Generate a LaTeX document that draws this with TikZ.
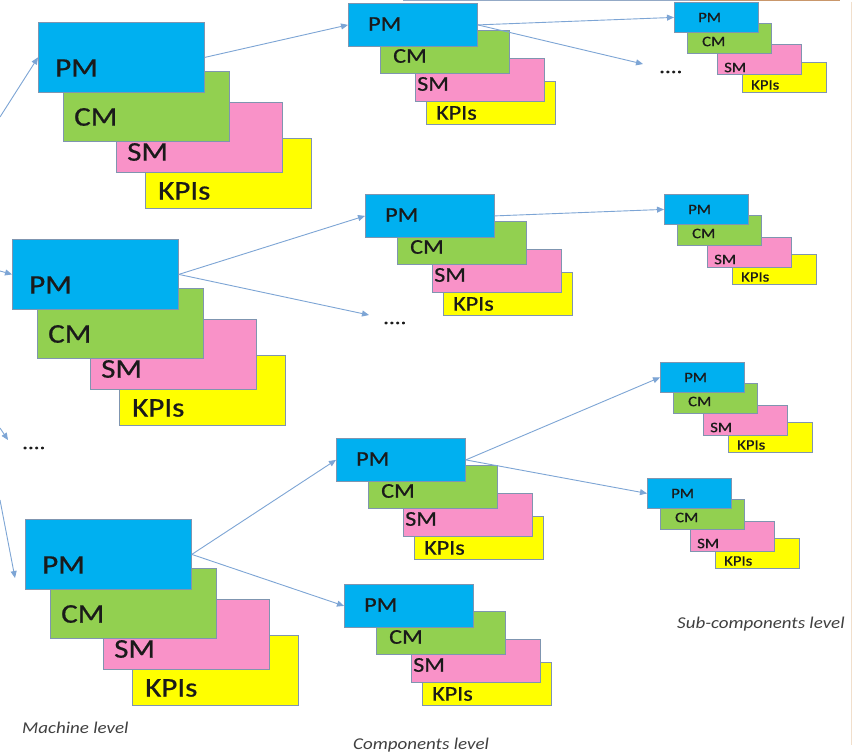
\documentclass[tikz,border=0pt]{standalone}
\usepackage{fontspec}
\setmainfont{Carlito}
\newfontfamily\heavyface{Carlito}[FakeBold=0.6]
\usetikzlibrary{arrows.meta}

\definecolor{pmblue}{HTML}{00B0F0}
\definecolor{cmgreen}{HTML}{92D050}
\definecolor{smpink}{HTML}{F992C8}
\definecolor{kpiyellow}{HTML}{FFFF00}
\definecolor{boxline}{HTML}{7F95B0}
\definecolor{flow}{HTML}{7DA5D5}
\definecolor{inktext}{HTML}{1A1A1A}
\definecolor{captext}{HTML}{404040}
\definecolor{edgegray}{HTML}{93A9C6}
\definecolor{edgeorange}{HTML}{C9976B}
\definecolor{edgefaint}{HTML}{F1DFCC}

% slightly widened lettering
\newcommand\wide[1]{\scalebox{1.15}[1]{#1}}

\tikzset{
  layer/.style={draw=boxline, line width=0.8pt, rectangle, inner sep=0pt,
    anchor=north west, minimum width=\bw, minimum height=\bh},
  tag/.style={anchor=west, inner sep=0pt, text=inktext, font=\heavyface\stackfont},
  flowarrow/.style={draw=flow, line width=0.9pt, -{Triangle[length=7pt,width=6pt]}},
  levelcap/.style={anchor=base west, inner sep=0pt, text=captext,
    font=\fontsize{16.5}{18}\selectfont\itshape},
  moredots/.style={anchor=west, inner sep=0pt, text=inktext,
    font=\heavyface\fontsize{20}{22}\selectfont},
}

% one PM/CM/SM/KPIs stack; #1 name prefix, #2,#3 top-left corner of PM
\newcommand\genstack[3]{%
  \node[layer, fill=kpiyellow] (#1k) at (#2+\kx,#3+\ky) {};
  \node[layer, fill=smpink]    (#1s) at (#2+\sx,#3+\sy) {};
  \node[layer, fill=cmgreen]   (#1c) at (#2+\cx,#3+\cy) {};
  \node[layer, fill=pmblue]    (#1p) at (#2,#3) {};
  \node[tag] (#1pt) at ([shift={(\ptx,\pty)}]#1p.north west) {\wide{PM}};
  \node[tag] (#1ct) at ([shift={(\ctx,\cty)}]#1c.north west) {\wide{CM}};
  \node[tag] (#1st) at ([shift={(\stx,\sty)}]#1s.north west) {\wide{SM}};
  \node[tag] (#1kt) at ([shift={(\ktx,\kty)}]#1k.north west) {\wide{KPIs}};
}

\newcommand\machinestack[3]{%
  \def\bw{166pt}\def\bh{70pt}%
  \def\cx{25}\def\cy{49}\def\sx{78}\def\sy{80}\def\kx{107}\def\ky{116}%
  \def\ptx{17}\def\pty{46}\def\ctx{11}\def\cty{46}%
  \def\stx{11}\def\sty{50}\def\ktx{13}\def\kty{53}%
  \def\stackfont{\fontsize{27}{30}\selectfont}%
  \genstack{#1}{#2}{#3}}

\newcommand\compstack[3]{%
  \def\bw{129pt}\def\bh{43pt}%
  \def\cx{32}\def\cy{27}\def\sx{67}\def\sy{55}\def\kx{78}\def\ky{78}%
  \def\ptx{20}\def\pty{21}\def\ctx{13}\def\cty{26}%
  \def\stx{2}\def\sty{26}\def\ktx{10}\def\kty{32}%
  \def\stackfont{\fontsize{21}{24}\selectfont}%
  \genstack{#1}{#2}{#3}}

\newcommand\subcompstack[3]{%
  \def\bw{84pt}\def\bh{30pt}%
  \def\cx{12.5}\def\cy{21}\def\sx{43}\def\sy{42.5}\def\kx{68}\def\ky{60}%
  \def\ptx{24}\def\pty{15.5}\def\ctx{15.5}\def\cty{18.5}%
  \def\stx{7}\def\sty{23}\def\ktx{9}\def\kty{23}%
  \def\stackfont{\fontsize{14.5}{16}\selectfont}%
  \genstack{#1}{#2}{#3}}

\begin{document}
\begin{tikzpicture}[x=1pt, y=-1pt]
  \useasboundingbox[fill=white] (0,0) rectangle (855,752);

  % frame edges
  \draw[edgegray, line width=1.2pt] (403,0.6) -- (690,0.6);
  \draw[edgeorange, line width=1.2pt] (690,0.6) -- (840,0.6);
  \draw[edgefaint, line width=0.8pt] (851,2) -- (851,745);

  % machine level
  \machinestack{ma}{38}{22}
  \machinestack{mb}{12}{239}
  \machinestack{mc}{25}{519}

  % components level
  \compstack{ca}{348}{3}
  \compstack{cb}{365}{194}
  \compstack{cc}{336}{438}
  \compstack{cd}{344}{584}

  % sub-components level
  \subcompstack{sa}{674}{2}
  \subcompstack{sb}{664}{194}
  \subcompstack{sc}{660}{362}
  \subcompstack{sd}{647}{478}

  % continuation marks
  \node[moredots] (mdots) at (22,448) {\wide{....}};
  \node[moredots] (cdots) at (383,323) {\wide{....}};
  \node[moredots] (sdots) at (659,72) {\wide{....}};

  % free arrow ends
  \coordinate (in1) at (0,117);
  \coordinate (in2) at (0,271);
  \coordinate (in3) at (0,428);
  \coordinate (in3e) at (8,440);
  \coordinate (in4) at (0,500);
  \coordinate (in4e) at (15,578);
  \coordinate (camore) at (643,64);
  \coordinate (mbmore) at (369,315);

  % incoming arrows at the machine level
  \draw[flowarrow] (in1) -- (map.west);
  \draw[flowarrow] (in2) -- (mbp.west);
  \draw[flowarrow] (in3) -- (in3e);
  \draw[flowarrow] (in4) -- (in4e);

  % machine -> components
  \draw[flowarrow] (map.east) -- (cap.west);
  \draw[flowarrow] (mbp.east) -- (cbp.west);
  \draw[flowarrow] (mbp.east) -- (mbmore);
  \draw[flowarrow] (mcp.east) -- (ccp.west);
  \draw[flowarrow] (mcp.east) -- (cdp.west);

  % components -> sub-components
  \draw[flowarrow] (cap.east) -- (sap.west);
  \draw[flowarrow] (cap.east) -- (camore);
  \draw[flowarrow] (cbp.east) -- (sbp.west);
  \draw[flowarrow] (ccp.east) -- (scp.west);
  \draw[flowarrow] (ccp.east) -- (sdp.west);

  % level captions
  \node[levelcap] (lvlm) at (22,733) {\wide{Machine level}};
  \node[levelcap] (lvlc) at (353,749) {\wide{Components level}};
  \node[levelcap] (lvls) at (677,628) {\wide{Sub-components level}};
\end{tikzpicture}
\end{document}
